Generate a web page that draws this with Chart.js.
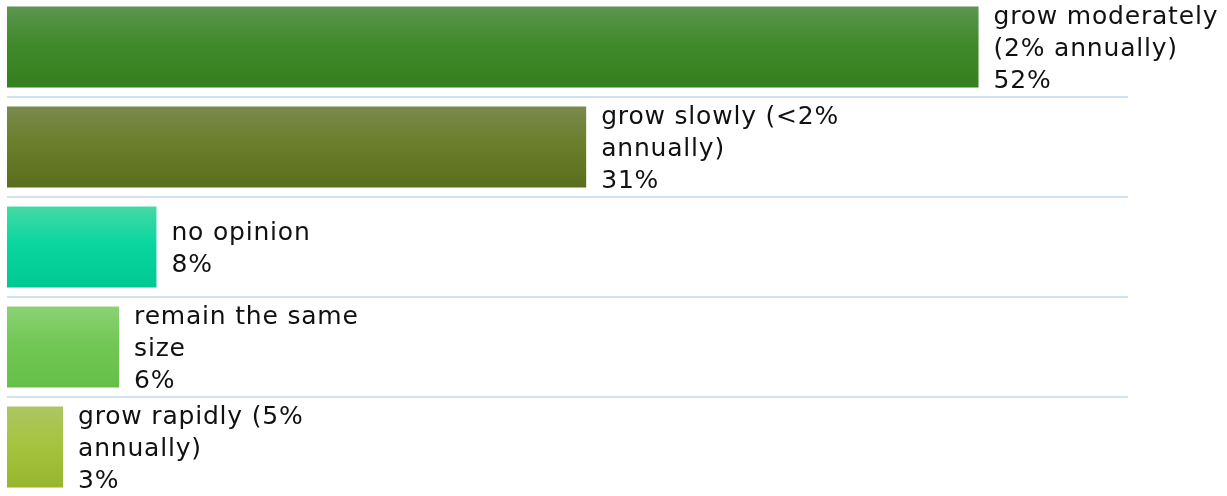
<!DOCTYPE html>
<html>
<head>
<meta charset="utf-8">
<script src="https://cdn.jsdelivr.net/npm/chart.js@4"></script>
<style>
  html, body { margin: 0; padding: 0; background: #fff; overflow: hidden; }
  .wrap { position: absolute; left: 0; top: -3px; width: 1227px; height: 500px; }
</style>
</head>
<body>
<div class="wrap"><canvas class="chart-1"></canvas></div>
<script>
const labels = [
  ['grow moderately', '(2% annually)'],
  ['grow slowly (<2%', 'annually)'],
  ['no opinion'],
  ['remain the same', 'size'],
  ['grow rapidly (5%', 'annually)']
];
const values = [52, 31, 8, 6, 3];
const valueLabels = ['52%', '31%', '8%', '6%', '3%'];
// top, middle, bottom of each bar's gradient
const barColors = [
  ['#5c9651', '#418a2b', '#367f1f'],
  ['#7a8a4e', '#6a7e2c', '#5b6e1d'],
  ['#46d9a4', '#0ad6a0', '#00c893'],
  ['#8bd276', '#72c755', '#65bf47'],
  ['#adc663', '#a6c43f', '#98b52e']
];

const canvas = document.querySelector('.chart-1');
const barPct = 0.81;

function barGradient(ctx) {
  const chart = ctx.chart;
  const cols = barColors[ctx.dataIndex];
  const y = chart.scales && chart.scales.y;
  if (!chart.chartArea || !y) return cols[1];
  const band = y.height / labels.length;
  const mid = y.getPixelForValue(ctx.dataIndex);
  const top = mid - band * barPct / 2;
  const bottom = mid + band * barPct / 2;
  const g = chart.ctx.createLinearGradient(0, top, 0, bottom);
  g.addColorStop(0, cols[0]);
  g.addColorStop(0.45, cols[1]);
  g.addColorStop(1, cols[2]);
  return g;
}

// labels drawn to the right of each bar
const barText = {
  id: 'barText',
  afterDatasetsDraw(chart) {
    const c = chart.ctx;
    const meta = chart.getDatasetMeta(0);
    c.save();
    c.font = '25px "DejaVu Sans"';
    c.letterSpacing = '0.8px';
    c.fillStyle = '#111';
    c.textAlign = 'left';
    c.textBaseline = 'middle';
    const lh = 32;
    meta.data.forEach((bar, i) => {
      const lines = labels[i].concat([valueLabels[i]]);
      const start = bar.y - (lines.length - 1) * lh / 2 + 2;
      lines.forEach((t, j) => c.fillText(t, bar.x + 15, start + j * lh));
    });
    c.restore();
  }
};

new Chart(canvas, {
  type: 'bar',
  data: {
    labels: labels,
    datasets: [{
      data: values,
      backgroundColor: barGradient,
      borderWidth: 0,
      categoryPercentage: 1,
      barPercentage: barPct
    }]
  },
  options: {
    indexAxis: 'y',
    responsive: true,
    maintainAspectRatio: false,
    animation: false,
    layout: { padding: { left: 7, right: 99, top: 0, bottom: 0 } },
    plugins: { legend: { display: false }, tooltip: { enabled: false } },
    scales: {
      x: { display: false, min: 0, max: 60 },
      y: {
        ticks: { display: false },
        border: { display: false },
        grid: { color: '#cfe1f2', lineWidth: 2, drawTicks: false, offset: true },
        afterFit: (scale) => { scale.width = 0; }
      }
    }
  },
  plugins: [barText]
});
</script>
</body>
</html>
